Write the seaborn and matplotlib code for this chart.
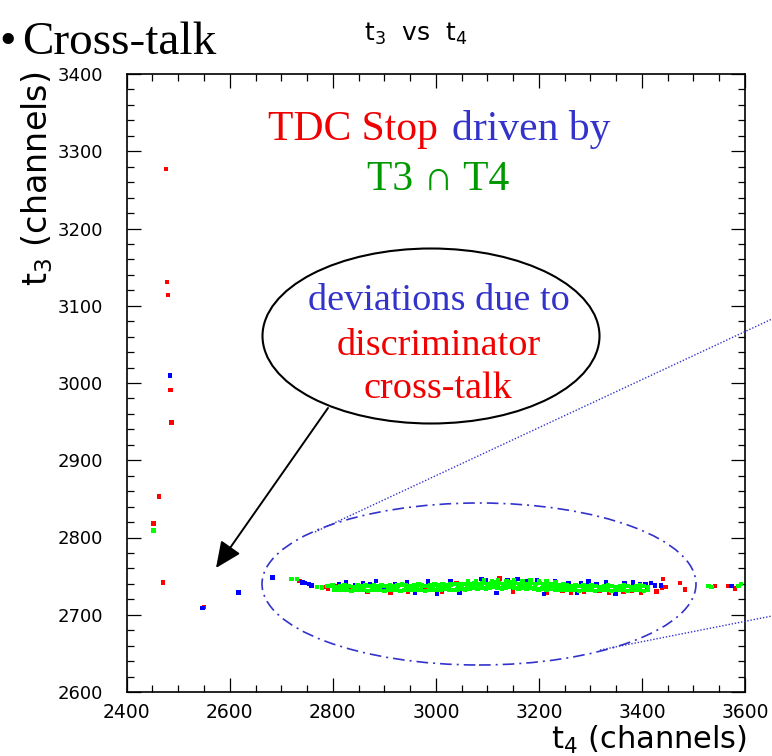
import matplotlib
matplotlib.use("Agg")
import pandas as pd
import matplotlib.pyplot as plt
import seaborn as sns
from matplotlib.patches import Ellipse, FancyArrowPatch, ArrowStyle
from matplotlib.lines import Line2D
from matplotlib.ticker import MultipleLocator

# ---------------------------------------------------------------- data
# (t4, t3) hits in TDC channels, grouped by which signal stopped the TDC
red_hits = [
    (2476, 3277), (2478, 3131), (2480, 3114), (2485, 2991), (2487, 2949),
    (2463, 2853), (2452, 2818), (2470, 2742), (2550, 2710),
    (2735, 2744), (2742, 2742), (2783, 2736), (2791, 2734), (2803, 2737),
    (2818, 2733), (2836, 2735), (2852, 2736), (2867, 2730), (2889, 2737),
    (2912, 2729), (2946, 2730), (2978, 2732), (3012, 2730), (3040, 2741),
    (3071, 2739), (3108, 2738), (3124, 2747), (3150, 2730), (3185, 2742),
    (3216, 2728), (3246, 2731), (3262, 2729), (3288, 2730), (3305, 2737),
    (3318, 2731), (3336, 2729), (3352, 2733), (3364, 2730), (3381, 2731),
    (3398, 2729), (3410, 2732), (3428, 2730),
    (3441, 2746), (3439, 2735), (3447, 2736), (3474, 2741), (3484, 2733),
    (3542, 2737), (3567, 2737), (3581, 2734),
]

blue_hits = [
    (2484, 3010), (2547, 2709), (2617, 2729), (2683, 2748),
    (2741, 2742), (2746, 2741), (2754, 2740), (2759, 2738), (2796, 2737),
    (2812, 2739), (2826, 2742), (2843, 2738), (2859, 2741), (2872, 2739),
    (2884, 2744), (2898, 2736), (2921, 2740), (2944, 2742), (2960, 2728),
    (2985, 2743), (3002, 2727), (3028, 2743), (3046, 2729), (3062, 2744),
    (3089, 2746), (3097, 2745), (3118, 2728), (3139, 2745), (3158, 2746),
    (3177, 2744), (3196, 2745), (3210, 2727), (3231, 2744), (3257, 2741),
    (3274, 2728), (3282, 2741), (3296, 2743), (3312, 2740), (3330, 2742),
    (3349, 2727), (3366, 2741), (3383, 2742), (3396, 2740), (3407, 2739),
    (3418, 2741), (3425, 2738), (3437, 2738), (3574, 2737),
]

green_hits = [
    (2452, 2809), (2720, 2746), (2731, 2746), (2769, 2736), (2779, 2735),
    # upper part of the coincidence band
    (2790, 2737), (2799, 2738), (2806, 2736), (2815, 2737), (2823, 2738),
    (2831, 2737), (2840, 2736), (2848, 2738), (2856, 2737), (2863, 2738),
    (2871, 2737), (2880, 2738), (2887, 2737), (2895, 2738), (2903, 2737),
    (2911, 2738), (2919, 2737), (2926, 2738), (2934, 2739), (2942, 2738),
    (2950, 2737), (2958, 2738), (2966, 2739), (2973, 2738), (2981, 2737),
    (2989, 2738), (2997, 2739), (3005, 2738), (3013, 2739), (3020, 2738),
    (3028, 2739), (3036, 2740), (3044, 2739), (3052, 2740), (3060, 2739),
    (3067, 2740), (3075, 2741), (3083, 2740), (3091, 2741), (3099, 2740),
    (3107, 2741), (3114, 2742), (3122, 2741), (3130, 2740), (3138, 2741),
    (3146, 2742), (3154, 2741), (3161, 2740), (3169, 2741), (3177, 2740),
    (3185, 2741), (3193, 2740), (3201, 2741), (3208, 2740), (3216, 2739),
    (3224, 2740), (3232, 2739), (3240, 2738), (3248, 2739), (3255, 2738),
    (3263, 2737), (3271, 2738), (3279, 2737), (3287, 2738), (3295, 2737),
    (3302, 2738), (3310, 2737), (3318, 2736), (3326, 2737), (3334, 2738),
    (3342, 2737), (3349, 2736), (3357, 2737), (3365, 2738), (3373, 2737),
    (3381, 2736), (3389, 2737), (3396, 2738), (3404, 2737), (3412, 2736),
    # lower part of the coincidence band
    (2803, 2733), (2811, 2732), (2819, 2733), (2828, 2732), (2836, 2731),
    (2844, 2732), (2852, 2733), (2860, 2732), (2868, 2731), (2876, 2732),
    (2884, 2733), (2892, 2732), (2900, 2731), (2908, 2732), (2916, 2733),
    (2924, 2732), (2931, 2731), (2939, 2732), (2947, 2733), (2955, 2732),
    (2963, 2733), (2971, 2732), (2979, 2731), (2987, 2732), (2994, 2733),
    (3002, 2732), (3010, 2733), (3018, 2734), (3026, 2733), (3034, 2732),
    (3042, 2733), (3050, 2734), (3057, 2733), (3065, 2734), (3073, 2735),
    (3081, 2734), (3089, 2735), (3097, 2734), (3105, 2735), (3113, 2736),
    (3120, 2735), (3128, 2734), (3136, 2735), (3144, 2736), (3152, 2735),
    (3160, 2734), (3168, 2735), (3176, 2734), (3183, 2735), (3191, 2734),
    (3199, 2733), (3207, 2734), (3215, 2733), (3223, 2734), (3231, 2733),
    (3239, 2732), (3246, 2733), (3254, 2732), (3262, 2733), (3270, 2732),
    (3278, 2731), (3286, 2732), (3294, 2733), (3302, 2732), (3309, 2731),
    (3317, 2732), (3325, 2733), (3333, 2732), (3341, 2731), (3349, 2732),
    (3357, 2733), (3365, 2732), (3372, 2731), (3380, 2732), (3388, 2733),
    (3396, 2732), (3404, 2731), (3412, 2732),
    # bump on top of the band
    (3062, 2743), (3078, 2744), (3093, 2745), (3109, 2744), (3121, 2745),
    (3137, 2744), (3152, 2745), (3168, 2744), (3184, 2745), (3200, 2744),
    (3215, 2743), (3232, 2742),
    # stragglers past the band
    (3529, 2737), (3535, 2736), (3587, 2737), (3592, 2740),
]

x_ticks = [2400, 2600, 2800, 3000, 3200, 3400, 3600]
y_ticks = [2600, 2700, 2800, 2900, 3000, 3100, 3200, 3300, 3400]

frames = []
for name, hits in (("red", red_hits), ("blue", blue_hits), ("green", green_hits)):
    f = pd.DataFrame(hits, columns=["t4", "t3"])
    f["source"] = name
    frames.append(f)
df = pd.concat(frames, ignore_index=True)

# ---------------------------------------------------------------- style
sns.set_theme(style="ticks")
plt.rcParams["font.family"] = ["DejaVu Sans"]
plt.rcParams["mathtext.fontset"] = "dejavusans"

W, H = 772, 756
fig = plt.figure(figsize=(W / 100, H / 100), dpi=100, facecolor="white")


def fx(px):
    return px / W


def fy(py):
    return 1 - py / H


ax = fig.add_axes([fx(126.7), fy(692), fx(745) - fx(126.7), fy(74) - fy(692)])
ax.set_facecolor("white")

sns.scatterplot(
    data=df, x="t4", y="t3", hue="source",
    palette={"red": "#ff0000", "blue": "#0000ff", "green": "#00ff00"},
    marker="s", s=10.5, linewidth=0, legend=False, ax=ax,
)

ax.set_xlim(2400, 3600)
ax.set_ylim(2600, 3400)
ax.set_xticks(x_ticks)
ax.set_yticks(y_ticks)
ax.xaxis.set_minor_locator(MultipleLocator(50))
ax.yaxis.set_minor_locator(MultipleLocator(20))
ax.set_xlabel("")
ax.set_ylabel("")
for sp in ax.spines.values():
    sp.set_visible(True)
    sp.set_color("black")
    sp.set_linewidth(1.2)
ax.tick_params(which="both", direction="in", top=True, right=True,
               colors="black", width=0.9)
ax.tick_params(which="major", length=10)
ax.tick_params(which="minor", length=5)
ax.tick_params(axis="x", which="major", pad=8, labelsize=13.5)
ax.tick_params(axis="y", which="major", pad=17, labelsize=13)

# ---------------------------------------------------------------- labels
fig.text(fx(416), fy(34), "t$_3$  vs  t$_4$", ha="center", va="center",
         fontsize=18, color="black")
fig.text(fx(37), fy(72), "t$_3$ (channels)", rotation=90, ha="center",
         va="top", fontsize=24, color="black")
fig.text(fx(747), fy(740), "t$_4$ (channels)", ha="right", va="center",
         fontsize=22, color="black")

serif = ["Liberation Serif", "DejaVu Serif"]
fig.text(fx(-1), fy(54), "\u2022", ha="left", va="baseline",
         fontsize=34, family=serif, color="black")
fig.text(fx(22), fy(54), "Cross-talk", ha="left", va="baseline",
         fontsize=34, family=serif, color="black")

RED, BLUE, GREEN = "#f00000", "#3333cc", "#009900"
fig.text(fx(438), fy(140), "TDC Stop", ha="right", va="baseline",
         fontsize=30, family=serif, color=RED)
fig.text(fx(452), fy(140), "driven by", ha="left", va="baseline",
         fontsize=30, family=serif, color=BLUE)
fig.text(fx(438), fy(190), "T3 \u2229 T4", ha="center", va="baseline",
         fontsize=30, family=serif, color=GREEN)

# callout bubble
fig.add_artist(Ellipse((fx(431), fy(336)), 337 / W, 175 / H,
                       transform=fig.transFigure, facecolor="none",
                       edgecolor="black", linewidth=1.5))
fig.text(fx(439), fy(310), "deviations due to", ha="center", va="baseline",
         fontsize=27.5, family=serif, color=BLUE)
fig.text(fx(439), fy(355), "discriminator", ha="center", va="baseline",
         fontsize=27.5, family=serif, color=RED)
fig.text(fx(438), fy(398), "cross-talk", ha="center", va="baseline",
         fontsize=27.5, family=serif, color=RED)

fig.add_artist(FancyArrowPatch(
    (fx(328), fy(408)), (fx(216), fy(568)), transform=fig.transFigure,
    arrowstyle=ArrowStyle("-|>", head_length=0.8, head_width=0.36),
    mutation_scale=20, shrinkA=0, shrinkB=0, color="black", linewidth=1.4))

# dash-dot ring around the coincidence band and the zoom guide lines
fig.add_artist(Ellipse((fx(479), fy(584)), 434 / W, 162 / H,
                       transform=fig.transFigure, facecolor="none",
                       edgecolor=BLUE, linewidth=1.2,
                       linestyle=(0, (7, 3, 1.2, 3))))
fig.add_artist(Line2D([fx(315), fx(772)], [fy(532), fy(319)],
                      transform=fig.transFigure, color=BLUE, linewidth=1.0,
                      linestyle=(0, (1, 1.3))))
fig.add_artist(Line2D([fx(600), fx(772)], [fy(650), fy(616)],
                      transform=fig.transFigure, color=BLUE, linewidth=1.0,
                      linestyle=(0, (1, 1.3))))

fig.savefig("out.png", dpi=100, facecolor="white")
